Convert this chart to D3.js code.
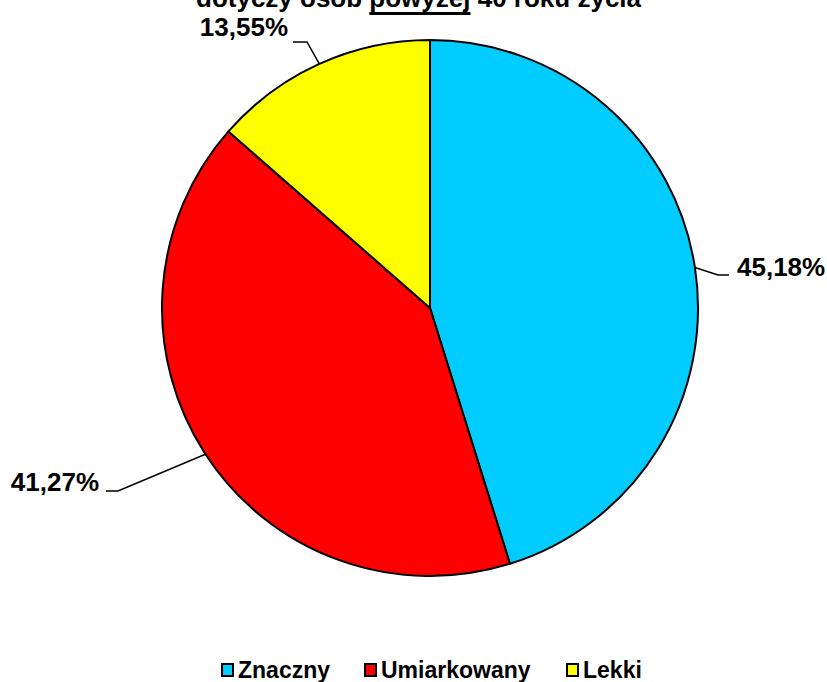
<!DOCTYPE html>
<html><head><meta charset="utf-8">
<script src="https://cdn.jsdelivr.net/npm/d3@7"></script>
<style>body{margin:0;background:#fff}svg{display:block}text{font-family:"Liberation Sans",Arial,sans-serif;font-weight:bold;fill:#000}</style>
</head><body>
<svg id="c" width="827" height="682"></svg>
<script>
const categories = ["Znaczny", "Umiarkowany", "Lekki"];
const values = [45.18, 41.27, 13.55];
const labels = ["45,18%", "41,27%", "13,55%"];
const colors = ["#00CCFF", "#FF0000", "#FFFF00"];

const svg = d3.select("#c");
const cx = 430, cy = 308, r = 268;

// title (second line, partly cut at top)
const title = svg.append("text").attr("x", 196).attr("y", 7).attr("font-size", 26);
title.append("tspan").text("dotyczy osób ");
const ul = title.append("tspan").text("powyżej");
title.append("tspan").text(" 40 roku życia");
const tn = title.node();
const ulStart = tn.getStartPositionOfChar(13).x;
const ulEnd = tn.getEndPositionOfChar(19).x;
svg.append("rect").attr("x", ulStart).attr("y", 12).attr("width", ulEnd - ulStart).attr("height", 3).attr("fill", "#000");

const pie = d3.pie().sort(null).value(d => d)(values);
const arc = d3.arc().innerRadius(0).outerRadius(r);
const g = svg.append("g").attr("transform", `translate(${cx},${cy})`);
g.selectAll("path").data(pie).join("path")
  .attr("d", arc).attr("fill", (d, i) => colors[i])
  .attr("stroke", "#000").attr("stroke-width", 2).attr("stroke-linejoin", "round");

// label layout: bend and end offsets relative to centre
const layout = [
  {bend: [288, -33], end: [299, -33], tx: 307, ty: -32, anchor: "start"},
  {bend: [-312, 183], end: [-324, 183], tx: -331, ty: 183, anchor: "end"},
  {bend: [-123, -266], end: [-137, -266], tx: -142, ty: -272, anchor: "end"}
];
pie.forEach((d, i) => {
  const a = (d.startAngle + d.endAngle) / 2;
  const p0 = [r * Math.sin(a), -r * Math.cos(a)];
  const L = layout[i];
  g.append("polyline").attr("points", [p0, L.bend, L.end].map(p => p.join(",")).join(" "))
    .attr("fill", "none").attr("stroke", "#000").attr("stroke-width", 1.5);
  g.append("text").attr("x", L.tx).attr("y", L.ty).attr("text-anchor", L.anchor)
    .attr("font-size", 26).text(labels[i]);
});

// legend
const legX = [222, 365, 567];
const leg = svg.append("g");
categories.forEach((c, i) => {
  leg.append("rect").attr("x", legX[i]).attr("y", 664).attr("width", 11).attr("height", 12)
    .attr("fill", colors[i]).attr("stroke", "#000").attr("stroke-width", 2);
  leg.append("text").attr("x", legX[i] + 16).attr("y", 678).attr("font-size", 23).text(c);
});
</script>
</body></html>
